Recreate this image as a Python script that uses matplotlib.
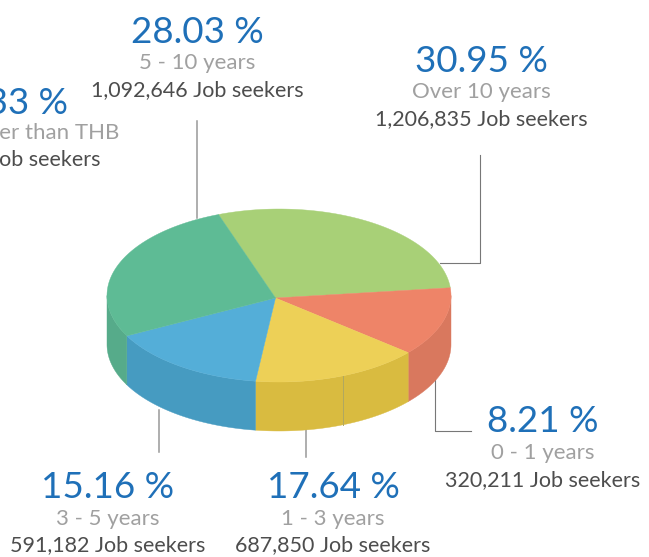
#!/usr/bin/env python3
"""3D style pie: job seekers by years of experience."""

import numpy as np
import matplotlib; matplotlib.use('Agg')
import matplotlib.pyplot as plt
from matplotlib.patches import Polygon

# clockwise from the top edge of the pie, shares as drawn in the picture
slice_names = ['Over 10 years', '0 - 1 years', '1 - 3 years', '3 - 5 years', '5 - 10 years']
drawn_share = [29.3, 12.9, 15.7, 15.1, 27.0]
top_colors = ['#A8D077', '#EE8468', '#EDD057', '#54AED8', '#5EBB95']
side_colors = ['#A8D077', '#D9785E', '#D9BB40', '#469BC1', '#56AB8A']

pct_labels = ['30.95 %', '8.21 %', '17.64 %', '15.16 %', '28.03 %', '.33 %']
name_labels = slice_names + ['Other than THB']
count_labels = ['1,206,835 Job seekers', '320,211 Job seekers', '687,850 Job seekers',
                '591,182 Job seekers', '1,092,646 Job seekers', 'Job seekers']

plt.rcParams.update({'font.family': 'Lato'})

BLUE, GREY, DARK = '#1F70B8', '#A0A0A0', '#4D4D4D'
cx, cy, rx, ry, depth = 279, 295.5, 172, 86.5, 49
apex = (275.5, 298)
start_angle = 110.6


def arc(a0, a1, dy=0):
    t = np.radians(np.linspace(a0, a1, 80))
    return np.column_stack([cx + rx * np.cos(t), cy - ry * np.sin(t) + dy])


fig = plt.figure(figsize=(6.49, 5.57), dpi=100)
ax = fig.add_axes([0, 0, 1, 1])
ax.set_xlim(0, 649)
ax.set_ylim(557, 0)
ax.axis('off')

# leader lines, below the pie
ax.plot([197, 197], [121, 218], color='#999999', lw=1.1, zorder=1)
ax.plot([480, 480, 440], [155, 263, 263], color='#777777', lw=0.8, zorder=1)
ax.plot([159, 159], [410, 452], color='#999999', lw=1.1, zorder=1)
ax.plot([306, 306], [425, 457], color='#999999', lw=1.1, zorder=1)
ax.plot([435, 435, 471], [375, 431, 431], color='#777777', lw=0.8, zorder=1)

edges = start_angle - np.cumsum([0] + drawn_share) * 3.6

# side walls, only the front half of the rim shows
for a0, a1, col in zip(edges[:-1], edges[1:], side_colors):
    a0v, a1v = min(a0, 0), max(a1, -180)
    if a0v <= a1v:
        continue
    rim = arc(a0v, a1v)
    low = arc(a1v, a0v, depth)
    ax.add_patch(Polygon(np.vstack([rim, low]), closed=True, fc=col, ec=col, lw=0.3, zorder=2))

# seam on the yellow wall
seam_t = np.radians(-68)
seam_x = cx + rx * np.cos(seam_t)
seam_y = cy - ry * np.sin(seam_t)
ax.plot([seam_x, seam_x], [seam_y, seam_y + depth], color='#B0A860', lw=0.7, zorder=3)

# top face
for a0, a1, col in zip(edges[:-1], edges[1:], top_colors):
    pts = np.vstack([[apex], arc(a0, a1)])
    ax.add_patch(Polygon(pts, closed=True, fc=col, ec=col, lw=0.3, zorder=4))

# label blocks: centre x and the three baselines
label_x = [481, 543, 333, 108, 197]
label_y = [(72, 98, 125), (432, 459, 486), (498, 525, 551), (498, 525, 551), (43, 69, 96)]
for i in range(5):
    ax.text(label_x[i], label_y[i][0], pct_labels[i], color=BLUE, fontsize=26.5, ha='center', va='baseline', zorder=5)
    ax.text(label_x[i], label_y[i][1], name_labels[i], color=GREY, fontsize=16, ha='center', va='baseline', zorder=5)
    ax.text(label_x[i], label_y[i][2], count_labels[i], color=DARK, fontsize=15.5, ha='center', va='baseline', zorder=5)

# this block runs off the left edge of the picture, as it does in the source
ax.text(68, 114, pct_labels[5], color=BLUE, fontsize=26.5, ha='right', va='baseline')
ax.text(119, 139, name_labels[5], color=GREY, fontsize=16, ha='right', va='baseline')
ax.text(100, 166, count_labels[5], color=DARK, fontsize=15.5, ha='right', va='baseline')

fig.savefig('out.png', dpi=100)
